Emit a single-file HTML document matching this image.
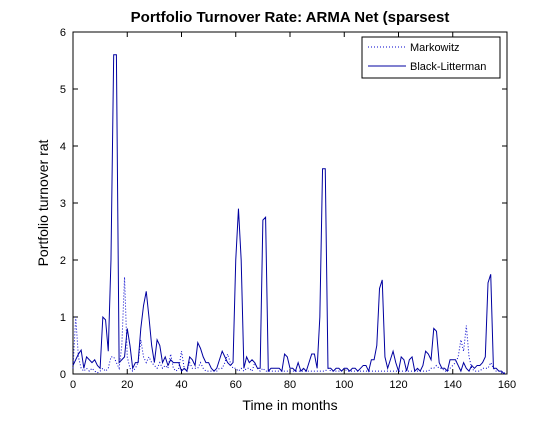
<!DOCTYPE html>
<html><head><meta charset="utf-8"><style>
body{margin:0;background:#fff;font-family:"Liberation Sans",Arial,sans-serif}
svg text{font-family:"Liberation Sans",Arial,sans-serif}
</style></head><body>
<svg id="chart" width="560" height="420" viewBox="0 0 560 420">
<rect x="0" y="0" width="560" height="420" fill="#fff"/>
<rect x="73" y="32" width="434" height="342" fill="#fff" stroke="#000" stroke-width="1"/>
<g id="ticks"></g>
<g id="series"></g>
<text x="290" y="22" text-anchor="middle" font-size="15" font-weight="bold">Portfolio Turnover Rate: ARMA Net (sparsest</text>
<text x="290" y="410" text-anchor="middle" font-size="14">Time in months</text>
<text transform="translate(48,203) rotate(-90)" text-anchor="middle" font-size="14">Portfolio turnover rat</text>
<g>
<rect x="362" y="37" width="138" height="41" fill="#fff" stroke="#000" stroke-width="1"/>
<line x1="368" y1="47" x2="406" y2="47" stroke="#0000cc" stroke-dasharray="1,2"/>
<text x="410" y="51" font-size="11">Markowitz</text>
<line x1="368" y1="66" x2="406" y2="66" stroke="#0000a0"/>
<text x="410" y="70" font-size="11">Black-Litterman</text>
</g>
</svg>
<script>
const xTicks=[0,20,40,60,80,100,120,140,160];
const yTicks=[0,1,2,3,4,5,6];
const blackLitterman=[0.15,0.25,0.35,0.42,0.1,0.3,0.25,0.2,0.25,0.15,0.1,1.0,0.95,0.4,2.0,5.6,5.6,0.2,0.25,0.3,0.8,0.5,0.1,0.2,0.2,0.8,1.2,1.45,1.0,0.5,0.2,0.6,0.5,0.2,0.3,0.15,0.25,0.2,0.2,0.2,0.05,0.1,0.05,0.3,0.25,0.15,0.55,0.45,0.3,0.2,0.2,0.1,0.05,0.1,0.25,0.4,0.3,0.2,0.15,0.2,2.0,2.9,2.0,0.1,0.3,0.2,0.25,0.2,0.1,0.1,2.7,2.75,0.05,0.1,0.1,0.1,0.1,0.05,0.35,0.3,0.1,0.1,0.05,0.2,0.05,0.1,0.05,0.2,0.35,0.35,0.1,1.0,3.6,3.6,0.1,0.1,0.05,0.1,0.1,0.05,0.1,0.1,0.05,0.1,0.1,0.05,0.1,0.15,0.15,0.05,0.25,0.25,0.5,1.5,1.65,0.3,0.1,0.25,0.4,0.2,0.05,0.3,0.25,0.05,0.25,0.3,0.05,0.1,0.05,0.15,0.4,0.35,0.25,0.8,0.75,0.2,0.1,0.1,0.05,0.25,0.25,0.25,0.15,0.05,0.2,0.1,0.05,0.15,0.1,0.15,0.15,0.2,0.3,1.6,1.75,0.1,0.1,0.05,0.05,0];
const markowitz=[0.1,1.0,0.3,0.1,0.05,0.1,0.05,0.1,0.05,0.02,0.05,0.1,0.05,0.1,0.3,0.3,0.2,0.1,0.5,1.7,0.3,0.1,0.05,0.1,0.2,0.6,0.3,0.2,0.3,0.2,0.15,0.1,0.2,0.1,0.15,0.1,0.35,0.1,0.05,0.1,0.4,0.1,0.05,0.2,0.1,0.1,0.1,0.2,0.1,0.05,0.05,0.05,0.05,0.05,0.1,0.1,0.2,0.35,0.2,0.1,0.1,0.05,0.1,0.05,0.1,0.1,0.05,0.2,0.1,0.05,0.1,0.05,0.05,0.05,0.05,0.05,0.05,0.05,0.05,0.05,0.05,0.05,0.05,0.05,0.05,0.05,0.05,0.05,0.05,0.05,0.05,0.05,0.05,0.05,0.1,0.05,0.05,0.05,0.05,0.05,0.1,0.05,0.05,0.05,0.05,0.05,0.05,0.05,0.05,0.05,0.05,0.05,0.05,0.05,0.05,0.05,0.05,0.05,0.05,0.05,0.05,0.05,0.05,0.05,0.05,0.05,0.05,0.05,0.05,0.05,0.05,0.05,0.1,0.1,0.15,0.1,0.1,0.05,0.05,0.1,0.15,0.2,0.3,0.6,0.4,0.85,0.3,0.1,0.05,0.05,0.05,0.1,0.1,0.1,0.2,0.1,0.05,0.05,0.02,0.02,0];
const NS='http://www.w3.org/2000/svg';
const X=v=>73+v*(434/160), Y=v=>374-v*(342/6);
const tg=document.getElementById('ticks'), sg=document.getElementById('series');
function mk(t,a,p){const e=document.createElementNS(NS,t);for(const k in a)e.setAttribute(k,a[k]);p.appendChild(e);return e;}
xTicks.forEach(v=>{
 const l=mk('line',{x1:X(v),x2:X(v),y1:374,y2:369,stroke:'#000'},tg);
 
 
 const l2=mk('line',{x1:X(v),x2:X(v),y1:32,y2:37,stroke:'#000'},tg);
 
 
 const t=mk('text',{x:X(v),y:388,'text-anchor':'middle','font-size':11},tg);t.textContent=v;
 
 
});
yTicks.forEach(v=>{
 const l=mk('line',{x1:73,x2:78,y1:Y(v),y2:Y(v),stroke:'#000'},tg);
 
 
 const l2=mk('line',{x1:507,x2:502,y1:Y(v),y2:Y(v),stroke:'#000'},tg);
 
 
 const t=mk('text',{x:66,y:Y(v)+4,'text-anchor':'end','font-size':11},tg);t.textContent=v;
 
 
});
const mp=mk('polyline',{points:markowitz.map((v,i)=>X(i)+','+Y(v)).join(' '),fill:'none',stroke:'#0000cc','stroke-width':1,'stroke-dasharray':'1,2'},sg);


const bp=mk('polyline',{points:blackLitterman.map((v,i)=>X(i)+','+Y(v)).join(' '),fill:'none',stroke:'#0000a0','stroke-width':1},sg);


</script>
</body></html>
